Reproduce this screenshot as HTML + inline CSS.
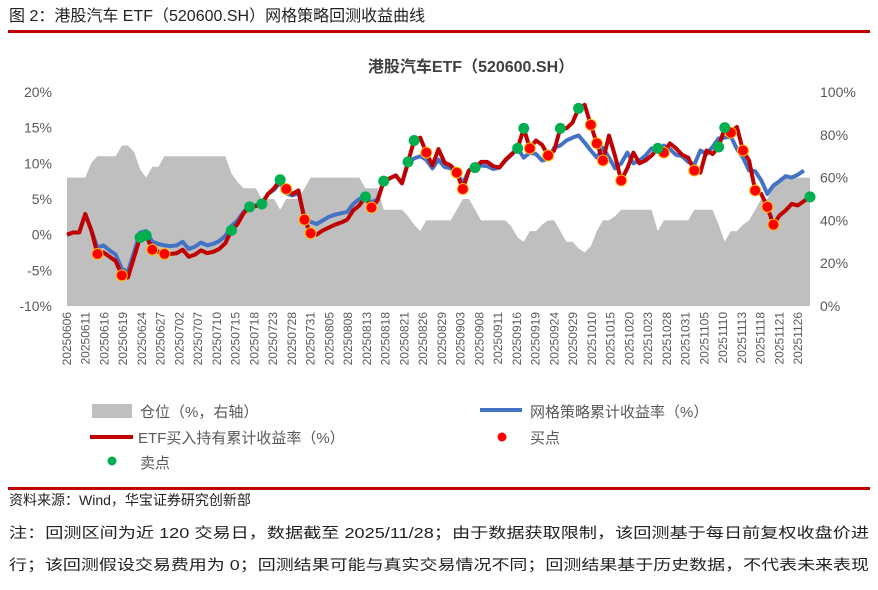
<!DOCTYPE html>
<html><head><meta charset="utf-8">
<style>
body{margin:0;width:878px;height:590px;background:#fff;overflow:hidden;font-family:"Liberation Sans","Noto Sans CJK SC",sans-serif;}
svg{display:block}
</style></head>
<body>
<svg id="chart" width="878" height="590" xmlns="http://www.w3.org/2000/svg" font-family="Liberation Sans, Noto Sans CJK SC, sans-serif">
<text x="9" y="21" font-size="16" fill="#222">图 2：港股汽车 ETF（520600.SH）网格策略回测收益曲线</text>
<rect x="8" y="30" width="862" height="3" fill="#c00000"/>
<text x="471" y="72" font-size="16" font-weight="bold" fill="#404040" text-anchor="middle">港股汽车ETF（520600.SH）</text>
<g id="plot"></g>
<g id="legend" font-size="15" fill="#595959">
<rect x="92" y="404" width="40" height="14" fill="#bfbfbf"/>
<text x="140" y="417">仓位（%，右轴）</text>
<rect x="480" y="408" width="42" height="4" fill="#4472c4"/>
<text x="530" y="417">网格策略累计收益率（%）</text>
<rect x="90" y="435" width="43" height="4" fill="#c00000"/>
<text x="138" y="443">ETF买入持有累计收益率（%）</text>
<circle cx="502" cy="437" r="4.5" fill="#ff0000"/>
<text x="530" y="443">买点</text>
<circle cx="112" cy="461" r="4.5" fill="#00b050"/>
<text x="140" y="468">卖点</text>
</g>
<rect x="8" y="487" width="862" height="3" fill="#c00000"/>
<text x="9" y="505" font-size="14" fill="#222">资料来源：Wind，华宝证券研究创新部</text>
<text x="9" y="538" font-size="14.5" fill="#222" textLength="860" lengthAdjust="spacingAndGlyphs">注：回测区间为近 120 交易日，数据截至 2025/11/28；由于数据获取限制，该回测基于每日前复权收盘价进</text>
<text x="9" y="570" font-size="14.5" fill="#222" textLength="860" lengthAdjust="spacingAndGlyphs">行；该回测假设交易费用为 0；回测结果可能与真实交易情况不同；回测结果基于历史数据，不代表未来表现</text>
</svg>
<script>
const etf=[0,0.3,0.3,2.9,0.6,-2.7,-2.5,-3.1,-3.7,-5.7,-6.0,-3.2,-0.4,-0.1,-2.1,-2.4,-2.7,-2.7,-2.6,-2.1,-3.1,-2.8,-2.2,-2.6,-2.4,-2.0,-1.2,0.6,1.5,3.0,3.9,4.0,4.3,5.7,6.5,7.7,6.4,5.7,6.2,2.1,0.2,0.0,0.6,1.0,1.4,1.7,2.1,3.4,4.1,5.3,3.8,4.8,7.5,7.9,8.3,7.2,10.2,13.2,13.6,11.5,9.7,12.0,10.1,9.7,8.7,6.4,9.0,9.4,10.2,10.2,9.6,9.4,10.5,11.3,12.1,14.9,12.1,13.2,12.6,11.1,11.8,14.9,14.9,15.7,17.7,18.2,15.4,12.8,10.4,13.9,11.0,7.6,9.3,11.5,10.0,10.4,11.1,12.1,11.5,12.8,12.1,11.2,10.8,9.0,8.7,11.8,11.3,12.3,15.0,14.3,15.1,11.8,10.4,6.2,5.7,3.9,1.4,2.7,3.4,4.3,4.1,4.7,5.3];
const grid=[0,0.3,0.3,2.9,0.6,-1.8,-1.5,-2.2,-2.8,-4.8,-5.2,-2.5,0.3,0.5,-1.0,-1.3,-1.5,-1.6,-1.5,-1.0,-2.0,-1.7,-1.1,-1.5,-1.3,-0.9,-0.2,1.2,2.0,3.2,4.0,4.1,4.4,5.7,6.3,7.3,5.8,5.5,5.8,2.5,1.8,1.5,2.0,2.5,2.8,3.0,3.2,4.3,5.0,5.3,4.5,5.0,7.5,7.9,8.3,7.2,10.0,10.7,11.0,10.5,9.3,10.5,9.5,9.3,8.7,7.2,9.0,9.4,9.7,9.6,9.2,9.4,10.4,11.2,12.1,10.8,11.5,11.3,10.4,10.6,12.2,12.5,13.2,13.6,13.9,12.9,11.8,10.8,12.2,10.8,9.3,10.0,11.5,10.0,10.4,11.1,12.1,11.8,12.5,12.0,11.2,11.0,10.2,9.8,11.8,11.3,12.3,13.5,13.6,13.8,12.0,10.8,9.0,8.9,7.6,5.7,6.9,7.5,8.2,8.0,8.4,9.0];
const pos=[60,60,60,60,67,70,70,70,70,75,75,72,64,60,65,65,70,70,70,70,70,70,70,70,70,70,70,62,58,55,55,55,50,50,50,45,50,50,50,55,60,60,60,60,60,60,60,60,60,55,55,55,45,45,45,45,42,38,35,40,40,40,40,40,45,50,50,45,40,40,40,40,40,37,32,30,35,35,38,40,40,35,30,30,27,25,28,35,40,40,42,45,45,45,45,45,45,35,40,40,40,40,40,45,45,45,45,38,30,35,35,38,40,45,50,50,55,60,60,60,60,60,60];
const buyIdx=[5,9,14,16,36,39,40,50,59,64,65,76,79,86,87,88,91,98,103,109,111,113,115,116];
const sellIdx=[12,13,27,30,32,35,49,52,56,57,67,74,75,81,84,97,107,108,122];
const leftTicks=[20,15,10,5,0,-5,-10];
const rightTicks=[100,80,60,40,20,0];
const dateLabels=["20250606","20250611","20250616","20250619","20250624","20250627","20250702","20250707","20250710","20250715","20250718","20250723","20250728","20250731","20250805","20250808","20250813","20250818","20250821","20250826","20250829","20250903","20250908","20250911","20250916","20250919","20250924","20250929","20251010","20251015","20251020","20251023","20251028","20251031","20251105","20251110","20251113","20251118","20251121","20251126"];

const NS="http://www.w3.org/2000/svg";
const g=document.getElementById('plot');
const X0=67,X1=810,YT=92,YB=306;
const DX=(X1-X0)/(etf.length-1);
const xs=i=>X0+i*DX;
const LX1=798;
const xl=k=>X0+k*(LX1-X0)/(dateLabels.length-1);
const yl=v=>YB-(v+10)/30*(YB-YT);
const yr=v=>YB-v/100*(YB-YT);
function mk(tag,attrs){const e=document.createElementNS(NS,tag);for(const k in attrs)e.setAttribute(k,attrs[k]);g.appendChild(e);return e;}
let d=`M${xs(0)},${yr(0)}`;pos.forEach((v,i)=>d+=` L${xs(i)},${yr(v)}`);d+=` L${xs(pos.length-1)},${yr(0)} Z`;
const area=mk('path',{d:d,fill:'#bfbfbf'});


function line(arr,color,w,name){const p=mk('path',{d:arr.map((v,i)=>(i?'L':'M')+xs(i)+','+yl(v)).join(' '),fill:'none',stroke:color,'stroke-width':w,'stroke-linejoin':'round'});

}
line(grid,'#4472c4',4,'grid-strategy-line');
line(etf,'#c00000',4,'etf-buyhold-line');
buyIdx.forEach(i=>{const c=mk('circle',{cx:xs(i),cy:yl(etf[i]),r:5.5,fill:'#ff0000',stroke:'#ffc000','stroke-width':1});

});
sellIdx.forEach(i=>{const c=mk('circle',{cx:xs(i),cy:yl(etf[i]),r:5.5,fill:'#00b050'});

});
leftTicks.forEach(v=>{const t=mk('text',{x:52,y:yl(v)+5,'font-size':14,fill:'#595959','text-anchor':'end'});t.textContent=v+'%';

});
rightTicks.forEach(v=>{const t=mk('text',{x:820,y:yr(v)+5,'font-size':14,fill:'#595959'});t.textContent=v+'%';

});
dateLabels.forEach((s,k)=>{const x=xl(k)+4;const t=mk('text',{x:0,y:0,'font-size':12,fill:'#595959','text-anchor':'end',transform:`translate(${x},312) rotate(-90)`});t.textContent=s;

});
</script>
</body></html>
